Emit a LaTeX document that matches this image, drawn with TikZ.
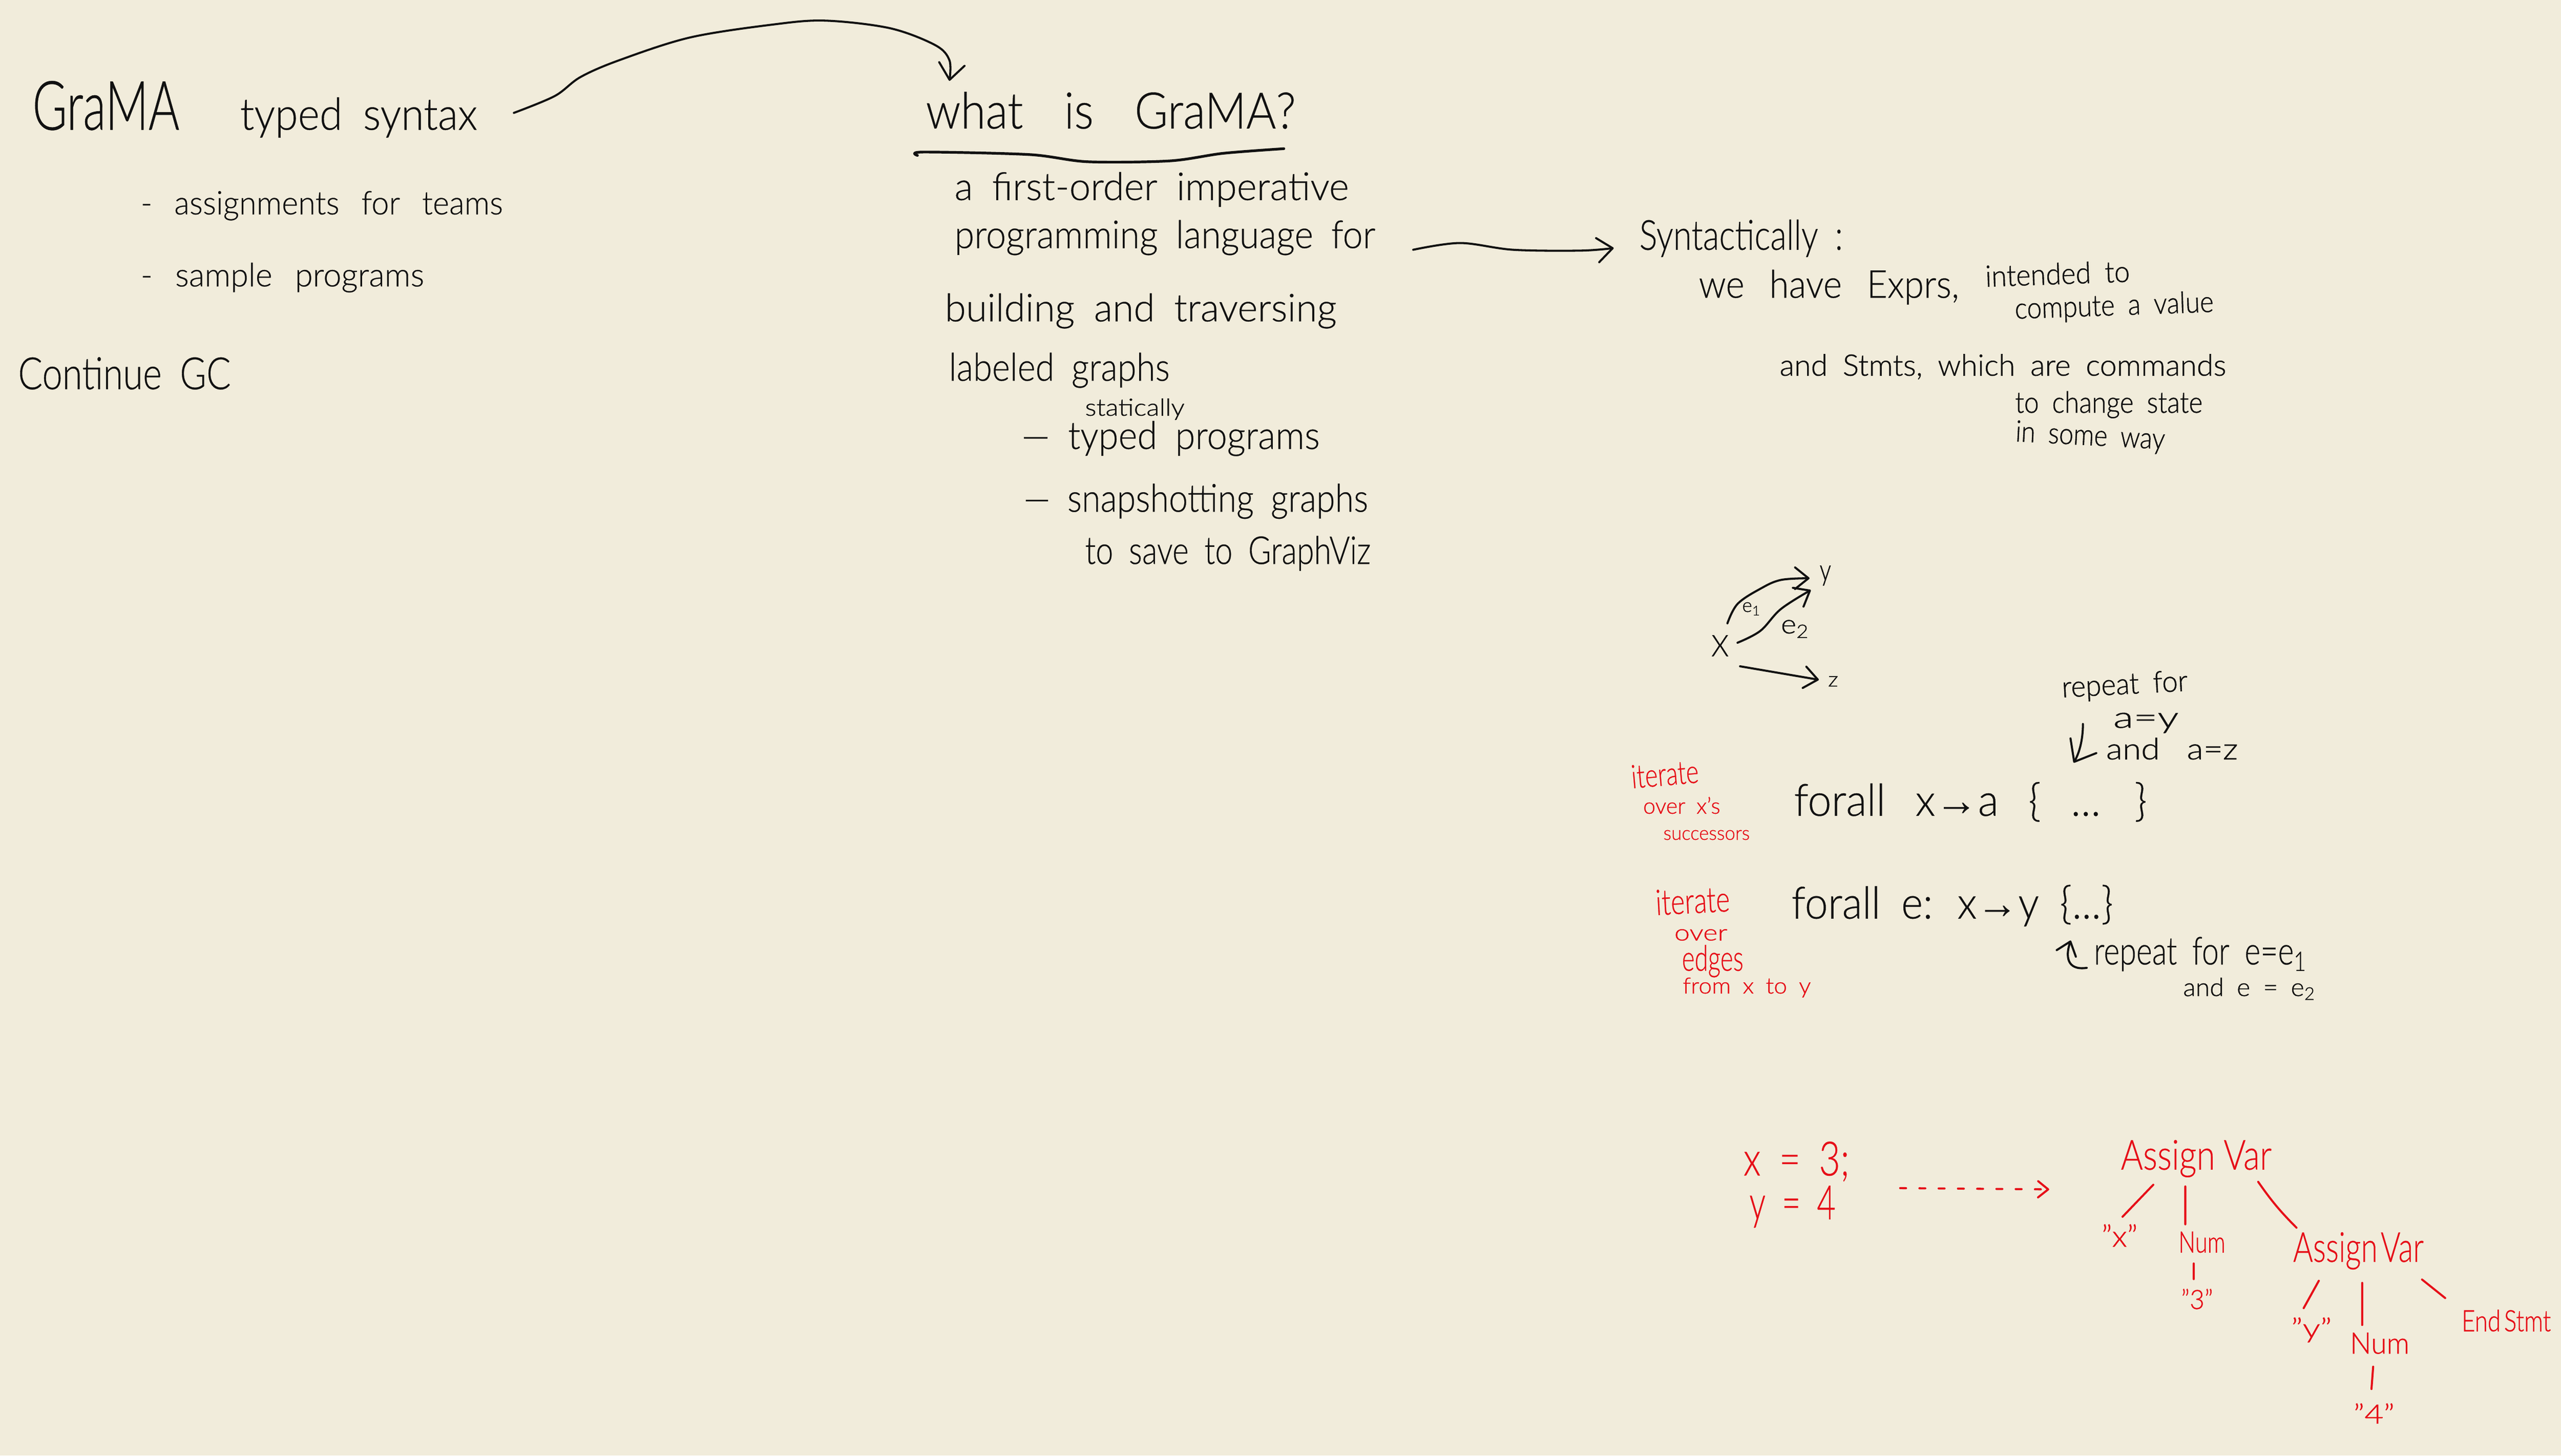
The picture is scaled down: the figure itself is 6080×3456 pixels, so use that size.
\documentclass[tikz,border=0pt]{standalone}
\usepackage{graphicx}
\usepackage{fontspec}
\setmainfont{Lato Light}[FakeBold=0.9]
\newfontfamily\lightf{Lato Light}[FakeBold=0.45]
\newfontfamily\symf{Liberation Sans}
\usetikzlibrary{arrows.meta}
\definecolor{paper}{HTML}{F1ECDB}
\definecolor{ink}{HTML}{111111}
\definecolor{redink}{HTML}{E60F18}
\newlength\pxu \setlength\pxu{0.01cm}
\newcommand{\hw}[3]{\resizebox{#1\pxu}{\height}{\ifnum#2>21 \lightf\fi\fontsize{#2}{#2}\selectfont\spaceskip=.5em\relax #3}}
\tikzset{
  hand/.style={inner sep=0pt,outer sep=0pt,anchor=base west,text=ink},
  redhand/.style={hand,text=redink},
  stroke/.style={line width=1.4pt,draw=ink,line cap=round,line join=round},
  redstroke/.style={line width=1.4pt,draw=redink,line cap=round,line join=round},
  barb/.style={-{Straight Barb[length=#1*0.01cm,width=#1*0.016cm,round]}},
}
\begin{document}
\begin{tikzpicture}[x=0.01cm,y=-0.01cm]
\useasboundingbox (0,0) rectangle (6080,3456);
\fill[paper] (0,0) rectangle (6080,3456);
% left column
\node[hand] (grama) at (77,308) {\hw{349}{46}{GraMA}};
\node[hand] (syntax) at (570,308) {\hw{563}{30}{typed syntax}};
\node[hand] (assign) at (334,509) {\hw{860}{22}{-\spaceskip=.7em{} assignments for teams}};
\node[hand] (sample) at (334,680) {\hw{673}{22}{-\spaceskip=.7em{} sample programs}};
\node[hand] (contin) at (43,924) {\hw{505}{30}{Continue GC}};
% middle column
\node[hand] (what) at (2198,305) {\hw{878}{34}{\spaceskip=.9em{}what is GraMA?}};
\draw[stroke,line width=1.8pt] plot[smooth,tension=.5] coordinates {(2178,369) (2192,361) (2444,367) (2582,384) (2777,382) (2904,364) (3048,353)};
\node[hand] (first) at (2266,475) {\hw{936}{26}{a first-order imperative}};
\node[hand] (prog) at (2266,589) {\hw{999}{26}{programming language for}};
\node[hand] (build) at (2243,763) {\hw{930}{26}{building and traversing}};
\node[hand] (label) at (2253,904) {\hw{524}{26}{labeled graphs}};
\node[hand] (static) at (2576,987) {\hw{236}{16}{statically}};
\node[hand] (typedp) at (2425,1066) {\hw{708}{26}{— typed programs}};
\node[hand] (snap) at (2430,1215) {\hw{818}{26}{— snapshotting graphs}};
\node[hand] (tosave) at (2576,1339) {\hw{678}{26}{to save to GraphViz}};
% right column text
\node[hand] (synt) at (3892,593) {\hw{483}{28}{Syntactically :}};
\node[hand] (have) at (4033,707) {\hw{618}{26}{\spaceskip=.7em{}we have Exprs,}};
\node[hand,rotate=2] (intend) at (4714,681) {\hw{343}{20}{intended to}};
\node[hand,rotate=2] (comp) at (4784,757) {\hw{472}{20}{compute a value}};
\node[hand] (stmts) at (4225,892) {\hw{1060}{20}{and Stmts, which are commands}};
\node[hand] (change) at (4784,980) {\hw{445}{20}{to change state}};
\node[hand,rotate=-3] (way) at (4784,1048) {\hw{355}{20}{in some way}};
% small graph
\node[hand] (xn) at (4063,1558) {\hw{41}{20}{X}};
\node[hand] (yn) at (4320,1378) {\hw{27}{20}{y}};
\node[hand] (zn) at (4340,1630) {\hw{24}{14}{z}};
\node[hand] (eone) at (4136,1453) {\hw{44}{13}{e\textsubscript{1}}};
\node[hand] (etwo) at (4228,1504) {\hw{67}{18}{e\textsubscript{2}}};
% forall lines
\node[hand,rotate=3] (rep) at (4896,1656) {\hw{299}{20}{repeat for}};
\node[hand] (aeqy) at (5017,1728) {\hw{155}{20}{a=y}};
\node[hand] (aeqz) at (5000,1803) {\hw{313}{20}{\spaceskip=.8em{}and a=z}};
\node[hand] (foralla) at (4259,1937) {\hw{838}{30}{\spaceskip=.7em{}forall x{\symf→}a \{ ... \}}};
\node[hand] (foralle) at (4253,2181) {\hw{764}{30}{forall e: x{\symf→}y \{...\}}};
\node[hand] (repe) at (4971,2290) {\hw{505}{26}{repeat for e=e\textsubscript{1}}};
\node[hand] (ande) at (5183,2365) {\hw{314}{17}{and e = e\textsubscript{2}}};
% red notes
\node[redhand,rotate=5] (iter) at (3875,1872) {\hw{160}{22}{iterate}};
\node[redhand] (overx) at (3901,1932) {\hw{183}{15}{over x's}};
\node[redhand] (succ) at (3949,1994) {\hw{205}{13}{successors}};
\node[redhand,rotate=3] (itertwo) at (3932,2173) {\hw{176}{24}{iterate}};
\node[redhand] (over) at (3975,2233) {\hw{126}{15}{over}};
\node[redhand] (edges) at (3993,2305) {\hw{146}{24}{edges}};
\node[redhand] (fromxy) at (3995,2359) {\hw{304}{15}{from x to y}};
% code and tree
\node[redhand] (codex) at (4139,2791) {\hw{252}{32}{x = 3;}};
\node[redhand] (codey) at (4153,2895) {\hw{205}{32}{y = 4}};
\node[redhand] (assignone) at (5035,2777) {\hw{358}{28}{\spaceskip=.25em{}Assign Var}};
\node[redhand] (xq) at (4989,2960) {\hw{86}{20}{"x"}};
\node[redhand] (numone) at (5172,2974) {\hw{111}{20}{Num}};
\node[redhand] (threeq) at (5178,3108) {\hw{76}{18}{"3"}};
\node[redhand] (assigntwo) at (5444,2996) {\hw{310}{28}{\spaceskip=.1em{}Assign Var}};
\node[redhand] (yq) at (5439,3176) {\hw{97}{18}{"y"}};
\node[redhand] (numtwo) at (5579,3214) {\hw{141}{20}{Num}};
\node[redhand] (fourq) at (5587,3380) {\hw{98}{18}{"4"}};
\node[redhand] (endst) at (5844,3161) {\hw{212}{20}{\spaceskip=.15em{}End Stmt}};
% named free ends of the curved connectors
\coordinate (aones) at ([shift={(368.5,-40)}]syntax.base);
\coordinate (aonee) at ([shift={(-383,-113)}]what.base);
\coordinate (atwos) at ([shift={(589.5,4)}]prog.base);
\coordinate (atwoe) at ([shift={(-302.5,-4)}]synt.base);
\coordinate (eones) at ([shift={(17.5,-78)}]xn.base);
\coordinate (eonee) at ([shift={(-37.5,-5)}]yn.base);
\coordinate (etwos) at ([shift={(41.5,-32)}]xn.base);
\coordinate (etwoe) at ([shift={(-34.5,23)}]yn.base);
% black connectors
\draw[stroke,barb=38] plot[smooth,tension=.55] coordinates {(aones) (1317,228) (1378,183) (1470,143) (1638,89) (1837,58) (1960,49) (2113,67) (2220,107) (2254,143) (aonee)};
\draw[stroke,barb=36] plot[smooth,tension=.55] coordinates {(atwos) (3466,577) (3592,593) (3753,595) (atwoe)};
\draw[stroke,barb=32] plot[smooth,tension=.6] coordinates {(eones) (4125,1434) (4179,1398) (4228,1377) (eonee)};
\draw[stroke,barb=32] plot[smooth,tension=.6] coordinates {(etwos) (4179,1498) (4228,1446) (etwoe)};
\draw[stroke,barb=32] ([shift={(47.5,24)}]xn.base) -- ([shift={(-34,-16)}]zn.base);
\draw[stroke,barb=44] ([shift={(-149.5,-9)}]aeqy.base) .. controls (4945,1760) and (4935,1790) .. ([shift={(245,-126)}]foralla.base);
\draw[stroke,barb=30] ([shift={(-269.5,8)}]repe.base) .. controls (4905,2305) and (4904,2268) .. ([shift={(281,52)}]foralle.base);
% red connectors
\draw[redstroke,barb=24,dash pattern=on 4pt off 9pt] ([shift={(246,30)}]codex.base) -- ([shift={(-349,47)}]assignone.base);
\draw[redstroke] ([shift={(-102,36)}]assignone.base) -- ([shift={(7,-71)}]xq.base);
\draw[redstroke] ([shift={(-26,40)}]assignone.base) -- ([shift={(-39.5,-67)}]numone.base);
\draw[redstroke] ([shift={(147,29)}]assignone.base) to[bend right=5] ([shift={(-147,-81)}]assigntwo.base);
\draw[redstroke] ([shift={(-19.5,26)}]numone.base) -- ([shift={(-8,-71)}]threeq.base);
\draw[redstroke] ([shift={(-94,45)}]assigntwo.base) -- ([shift={(-18.5,-70)}]yq.base);
\draw[redstroke] ([shift={(9,50)}]assigntwo.base) -- ([shift={(-41.5,-68)}]numtwo.base);
\draw[redstroke] ([shift={(151,42)}]assigntwo.base) -- ([shift={(-145,-79)}]endst.base);
\draw[redstroke] ([shift={(-15.5,31)}]numtwo.base) -- ([shift={(-6,-82)}]fourq.base);
\end{tikzpicture}
\end{document}
